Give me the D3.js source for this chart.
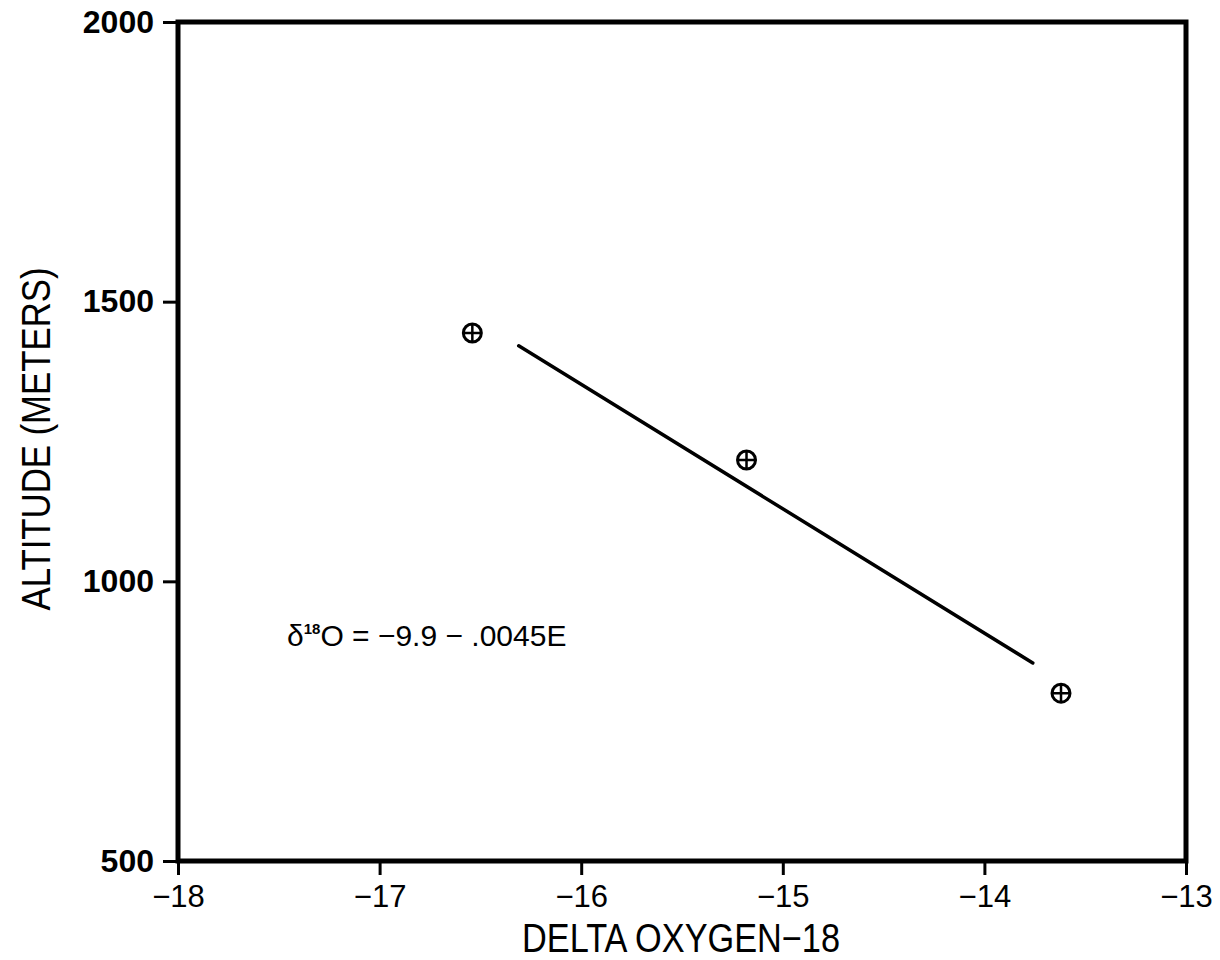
<!DOCTYPE html>
<html>
<head>
<meta charset="utf-8">
<script src="https://cdn.jsdelivr.net/npm/d3@7"></script>
<style>
  body { margin: 0; background: #fff; }
  svg { display: block; font-family: "Liberation Sans", Arial, sans-serif; }
</style>
</head>
<body>
<script>
// samples: delta O-18 vs altitude
var delta = [-16.54, -15.18, -13.62];
var altitude = [1444, 1217, 800];

// fitted line, end points along altitude
var fitAltitude = [1421, 854];
var fitDelta = [-16.31, -13.76];

var xTicks = [-18, -17, -16, -15, -14, -13];
var yTicks = [500, 1000, 1500, 2000];

var width = 1220, height = 960;

var x = d3.scaleLinear().domain([-18, -13]).range([178, 1186]);
var y = d3.scaleLinear().domain([500, 2000]).range([861, 22]);

var svg = d3.select("body").append("svg")
  .attr("width", width)
  .attr("height", height);

var fmtMinus = function(d) { return d < 0 ? "\u2212" + Math.abs(d) : String(d); };

// axes
var xAxis = d3.axisBottom(x).tickValues(xTicks).tickSize(14).tickPadding(10).tickFormat(fmtMinus);
var yAxis = d3.axisLeft(y).tickValues(yTicks).tickSize(15).tickPadding(9).tickFormat(d3.format("d"));

var gx = svg.append("g").attr("transform", "translate(0," + y(500) + ")").call(xAxis);
gx.select(".domain").remove();
gx.selectAll("line").attr("stroke", "#000").attr("stroke-width", 3);
gx.selectAll("text").attr("fill", "#000").attr("font-size", 31);

var gy = svg.append("g").attr("transform", "translate(" + x(-18) + ",0)").call(yAxis);
gy.select(".domain").remove();
gy.selectAll("line").attr("stroke", "#000").attr("stroke-width", 3);
gy.selectAll("text").attr("fill", "#000").attr("font-size", 32).attr("font-weight", "bold");

// frame
svg.append("rect")
  .attr("x", x(-18)).attr("y", y(2000))
  .attr("width", x(-13) - x(-18)).attr("height", y(500) - y(2000))
  .attr("fill", "none").attr("stroke", "#000").attr("stroke-width", 5);

// regression line
var line = d3.line()
  .x(function(d, i) { return x(fitDelta[i]); })
  .y(function(d) { return y(d); });

svg.append("path")
  .datum(fitAltitude)
  .attr("d", line)
  .attr("fill", "none")
  .attr("stroke", "#000")
  .attr("stroke-width", 3.5)
  .attr("stroke-linecap", "round");

// circled-plus markers
var pts = svg.selectAll("g.pt").data(delta).enter().append("g")
  .attr("class", "pt")
  .attr("transform", function(d, i) { return "translate(" + x(d) + "," + y(altitude[i]) + ")"; });

pts.append("circle").attr("r", 9)
  .attr("fill", "none").attr("stroke", "#000").attr("stroke-width", 3);
pts.append("path").attr("d", "M-9,0H9M0,-9V9")
  .attr("stroke", "#000").attr("stroke-width", 2.5);

// equation
var eq = svg.append("text")
  .attr("x", 287).attr("y", 646)
  .attr("font-size", 30)
  .attr("fill", "#000");
eq.append("tspan").text("\u03b4");
eq.append("tspan").attr("dy", -12).attr("font-size", 15).attr("font-weight", "bold").text("18");
eq.append("tspan").attr("dy", 12).text("O = \u22129.9 \u2212 .0045E");

// axis titles
svg.append("text")
  .attr("x", 681).attr("y", 952)
  .attr("text-anchor", "middle")
  .attr("textLength", 318).attr("lengthAdjust", "spacingAndGlyphs")
  .attr("font-size", 40)
  .text("DELTA OXYGEN\u221218");

svg.append("text")
  .attr("transform", "translate(50,439) rotate(-90)")
  .attr("text-anchor", "middle")
  .attr("textLength", 343).attr("lengthAdjust", "spacingAndGlyphs")
  .attr("font-size", 40)
  .text("ALTITUDE (METERS)");
</script>
</body>
</html>
